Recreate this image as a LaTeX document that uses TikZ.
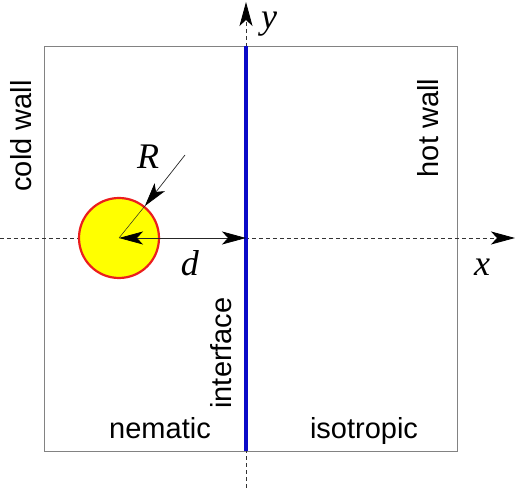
\documentclass[tikz,border=0pt]{standalone}
\usepackage{fontspec}
\setmainfont{Liberation Sans}
\newfontfamily\symfont{Liberation Serif}
\usepackage{tikz}
\usetikzlibrary{arrows.meta, positioning}
\usepackage{xcolor}
\definecolor{wallgray}{RGB}{130,130,130}
\definecolor{ifaceblue}{RGB}{10,10,200}
\definecolor{ballyellow}{RGB}{255,255,0}
\definecolor{ballred}{RGB}{235,30,30}

\begin{document}
\begin{tikzpicture}[
    x=1pt, y=1pt,
    txt/.style={font=\fontsize{29}{33}\selectfont, inner sep=0pt},
    sym/.style={font=\fontsize{36}{40}\selectfont\symfont\itshape, inner sep=0pt},
    axis/.style={black!80, line width=0.8pt, dash pattern=on 4pt off 3pt,
                 -{Stealth[length=24pt, width=13pt, inset=6pt, black]}},
    arr/.style={-{Stealth[length=24pt, width=13pt, inset=6pt, black]}, line width=0.7pt, black!85},
    iface/.style={ifaceblue, line width=4pt},
    ball/.style={circle, draw=ballred, line width=2.2pt, fill=ballyellow,
                 minimum size=80pt, inner sep=0pt},
]
    \useasboundingbox (-246,-251) rectangle (269,238);

    % cell walls
    \draw[wallgray, line width=0.9pt] (-202,-213) rectangle (211,192);

    % axes
    \coordinate (origin) at (0,0);
    \coordinate (xfrom) at (-246,0);
    \coordinate (xto) at (269,0);
    \coordinate (yfrom) at (0,-250);
    \coordinate (yto) at (0,236);
    \draw[axis] (xfrom) -- (xto);
    \draw[axis] (yfrom) -- (yto);

    % interface
    \coordinate (ifacetop) at (0,192);
    \coordinate (ifacebot) at (0,-213);
    \draw[iface] (ifacebot) -- (ifacetop);

    % particle
    \node[ball] (drop) at (-127,0) {};
    \coordinate (rtail) at (-61,83);
    \draw[arr] (rtail) -- (drop.51.5);
    \draw[line width=0.5pt, black!85] (drop.51.5) -- (drop.center);
    \draw[arr, {Stealth[length=24pt, width=13pt, inset=6pt, black]}-{Stealth[length=24pt, width=13pt, inset=6pt, black]}]
        (drop.center) -- (origin);

    % labels
    \node[sym] (rlbl) at (-98,81) {R};
    \node[sym] (dlbl) at (-56,-25) {d};
    \node[sym] (xlbl) at (236,-29) {x};
    \node[sym] (ylbl) at (23,214) {y};

    \node[txt, rotate=90, anchor=base] (cold) at (-214,102) {cold wall};
    \node[txt, rotate=90, anchor=base] (hot) at (193,110) {hot wall};
    \node[txt, rotate=90, anchor=base] (ifacelbl) at (-14,-115) {interface};
    \node[txt, anchor=base] (nem) at (-86,-201) {nematic};
    \node[txt, anchor=base] (iso) at (118,-201) {isotropic};
\end{tikzpicture}
\end{document}
